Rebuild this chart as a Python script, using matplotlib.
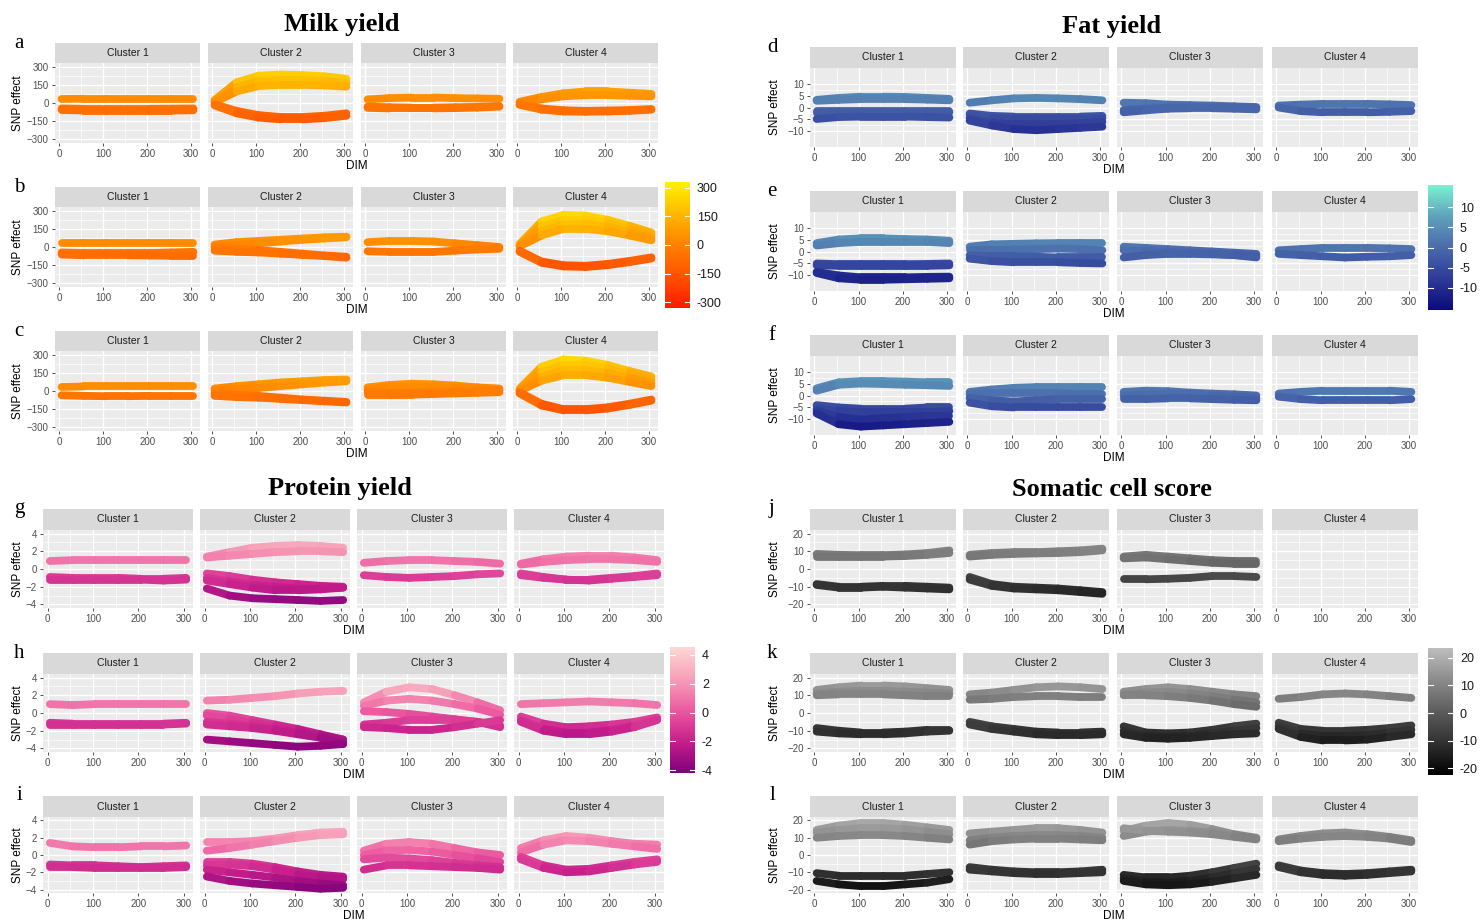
import numpy as np
import matplotlib.pyplot as plt
from matplotlib.collections import LineCollection
from matplotlib.colors import LinearSegmentedColormap, Normalize
from matplotlib.cm import ScalarMappable

W, H = 1483, 924

DIM = [5, 55, 105, 155, 205, 255, 305]
CLUSTERS = ["Cluster 1", "Cluster 2", "Cluster 3", "Cluster 4"]

# SNP effect curves, one list per cluster, values read at the DIM points above
milk_a = [
    [[33, 35, 35, 35, 35, 35, 35], [-45, -48, -48, -48, -48, -47, -45], [-58, -62, -62, -62, -62, -62, -60]],
    [[25, 170, 225, 235, 230, 220, 200], [15, 130, 180, 190, 190, 180, 165], [5, 95, 140, 150, 150, 145, 135],
     [-10, -65, -100, -115, -115, -105, -85], [-20, -85, -120, -135, -135, -125, -105]],
    [[30, 40, 45, 45, 40, 38, 35], [-30, -35, -38, -38, -35, -32, -25], [-40, -45, -45, -45, -42, -38, -30]],
    [[10, 50, 80, 95, 95, 85, 75], [0, 30, 55, 65, 65, 60, 55], [-10, -45, -60, -65, -62, -58, -50],
     [-15, -55, -70, -72, -70, -65, -55]],
]
milk_b = [
    [[35, 35, 35, 35, 35, 35, 35], [-45, -50, -50, -50, -50, -45, -40], [-62, -68, -68, -68, -70, -72, -72]],
    [[20, 40, 50, 60, 70, 80, 85], [0, 15, 30, 45, 60, 70, 80], [-5, -15, -25, -40, -55, -70, -80],
     [-30, -40, -45, -55, -65, -75, -88]],
    [[40, 50, 50, 45, 30, 15, 0], [-35, -40, -40, -40, -30, -20, -15]],
    [[25, 210, 265, 260, 225, 175, 120], [15, 170, 225, 225, 195, 150, 100], [10, 130, 185, 190, 165, 120, 75],
     [5, 95, 150, 150, 130, 95, 55], [-30, -120, -150, -155, -140, -115, -85],
     [-40, -130, -160, -165, -150, -125, -95]],
]
milk_c = [
    [[33, 38, 38, 38, 38, 38, 38], [-35, -40, -43, -43, -40, -40, -40]],
    [[20, 40, 55, 70, 80, 90, 95], [5, 15, 25, 40, 55, 70, 80], [-20, -30, -40, -55, -70, -80, -90],
     [-40, -50, -55, -65, -75, -85, -95]],
    [[30, 50, 60, 55, 45, 30, 20], [10, 30, 35, 30, 25, 15, 10], [-10, -15, -15, -10, -5, 0, 5],
     [-30, -30, -30, -25, -20, -15, -10]],
    [[20, 200, 260, 250, 215, 165, 120], [10, 160, 215, 215, 185, 140, 95], [5, 120, 170, 170, 150, 110, 65],
     [0, 85, 130, 130, 110, 75, 40], [-10, -105, -150, -150, -135, -105, -70],
     [-20, -120, -160, -160, -145, -115, -80]],
]

fat_d = [
    [[3.2, 4.0, 4.5, 4.5, 4.4, 4.0, 3.6], [2.8, 3.2, 3.5, 3.5, 3.5, 3.3, 3.0], [-1.5, -1.5, -1.5, -1.5, -1.5, -1.5, -1.5],
     [-2.2, -2.2, -2.2, -2.2, -2.2, -2.2, -2.0], [-4.8, -4.0, -3.8, -3.8, -3.8, -4.0, -4.2]],
    [[2.0, 3.0, 3.8, 4.0, 3.8, 3.5, 3.0], [-2.5, -3.5, -3.8, -3.8, -3.8, -3.8, -3.5],
     [-3.0, -4.5, -5.0, -5.0, -5.0, -5.0, -4.5], [-4.5, -6.5, -7.0, -7.0, -7.0, -6.5, -6.0],
     [-5.5, -7.5, -9.0, -9.5, -9.0, -8.5, -8.0]],
    [[2.0, 1.8, 1.2, 1.0, 0.8, 0.5, 0.2], [-1.0, -0.5, 0.0, 0.2, 0.2, 0.0, -0.3],
     [-2.0, -1.2, -0.5, -0.3, -0.3, -0.5, -0.8]],
    [[0.8, 1.2, 1.5, 1.5, 1.5, 1.3, 1.0], [0.0, -1.5, -2.0, -2.0, -2.0, -1.8, -1.5]],
]
fat_e = [
    [[3.5, 5.0, 5.5, 5.5, 5.2, 5.0, 4.5], [2.5, 3.5, 4.0, 4.0, 4.0, 4.0, 3.5], [-5.0, -5.3, -5.3, -5.3, -5.3, -5.2, -5.0],
     [-5.8, -6.0, -6.0, -6.0, -6.0, -6.0, -5.8], [-8.5, -10.0, -10.8, -10.8, -10.8, -10.6, -10.5],
     [-9.0, -11.2, -11.8, -11.8, -11.6, -11.4, -11.2]],
    [[2.0, 3.0, 3.2, 3.4, 3.5, 3.5, 3.5], [0.5, 0.5, 0.8, 1.0, 1.2, 1.0, 0.5], [-1.5, -2.0, -2.0, -2.2, -2.5, -2.5, -2.5],
     [-3.0, -4.0, -4.5, -4.5, -4.5, -4.8, -5.0]],
    [[2.0, 1.5, 1.0, 0.5, 0.0, -0.5, -1.0], [0.5, 0.2, 0.0, -0.5, -1.0, -1.5, -2.5],
     [-2.5, -1.5, -1.0, -1.0, -1.2, -1.5, -2.0]],
    [[0.5, 1.0, 1.5, 1.5, 1.5, 1.3, 1.0], [-1.0, -1.5, -2.0, -2.5, -2.2, -2.0, -1.5]],
]
fat_f = [
    [[3.0, 5.5, 6.0, 6.0, 5.8, 5.5, 5.5], [2.0, 4.5, 5.0, 4.8, 4.5, 4.3, 4.0], [-4.0, -5.0, -5.5, -5.5, -5.5, -5.0, -5.0],
     [-5.5, -6.5, -7.0, -7.0, -7.0, -7.0, -6.5], [-6.5, -9.0, -10.0, -9.5, -9.0, -8.5, -8.5],
     [-7.5, -12.0, -13.0, -12.5, -12.0, -11.5, -11.0]],
    [[1.5, 2.5, 3.2, 3.5, 3.5, 3.5, 3.5], [0.5, 1.0, 1.0, 1.0, 1.0, 0.5, 0.5], [-1.0, -2.0, -2.5, -2.0, -1.5, -1.5, -1.5],
     [-3.0, -4.5, -5.0, -5.0, -5.0, -5.0, -5.0]],
    [[1.5, 2.0, 1.8, 1.2, 0.8, 0.5, 0.0], [0.0, 0.5, 0.5, 0.5, 0.0, -0.5, -1.0],
     [-1.5, -1.5, -1.2, -1.2, -1.5, -1.8, -2.0]],
    [[0.8, 1.5, 2.0, 2.0, 2.0, 2.0, 1.5], [-0.5, -1.5, -2.0, -2.0, -2.0, -2.0, -1.5]],
]

protein_g = [
    [[0.9, 1.0, 1.0, 1.0, 1.0, 1.0, 1.0], [-0.9, -1.0, -1.0, -1.0, -1.1, -1.1, -1.0],
     [-1.2, -1.2, -1.2, -1.2, -1.2, -1.3, -1.2]],
    [[1.4, 1.9, 2.4, 2.6, 2.7, 2.6, 2.4], [1.3, 1.5, 1.7, 1.9, 2.0, 2.0, 1.9], [-0.5, -0.8, -1.2, -1.5, -1.7, -1.9, -2.0],
     [-1.0, -1.4, -1.8, -2.0, -2.2, -2.2, -2.1], [-1.3, -1.7, -2.1, -2.4, -2.4, -2.3, -2.1],
     [-2.2, -3.0, -3.3, -3.4, -3.5, -3.6, -3.5]],
    [[0.7, 0.9, 1.0, 1.0, 0.9, 0.8, 0.6], [-0.7, -0.9, -1.0, -0.9, -0.8, -0.6, -0.5]],
    [[0.6, 1.1, 1.4, 1.5, 1.5, 1.3, 1.0], [0.5, 0.8, 1.0, 1.1, 1.1, 1.0, 0.8], [-0.5, -0.9, -1.2, -1.2, -1.0, -0.8, -0.5],
     [-0.7, -1.0, -1.2, -1.3, -1.1, -0.9, -0.7]],
]
protein_h = [
    [[1.0, 0.9, 1.0, 1.0, 1.0, 1.0, 1.0], [-1.1, -1.2, -1.2, -1.2, -1.2, -1.2, -1.1],
     [-1.3, -1.3, -1.3, -1.3, -1.3, -1.3, -1.2]],
    [[1.4, 1.5, 1.7, 1.9, 2.2, 2.4, 2.5], [0.0, -0.3, -0.8, -1.3, -1.8, -2.4, -3.0], [-0.3, -0.7, -1.1, -1.5, -2.0, -2.5, -3.0],
     [-1.0, -1.2, -1.5, -1.8, -2.2, -2.7, -3.2], [-1.3, -1.5, -1.7, -2.0, -2.4, -2.8, -3.5],
     [-3.0, -3.2, -3.4, -3.6, -3.8, -3.7, -3.5]],
    [[1.2, 2.4, 2.9, 2.7, 2.0, 1.2, 0.3], [0.8, 1.4, 1.6, 1.4, 1.0, 0.5, -0.2], [0.2, 0.1, -0.1, -0.4, -0.7, -1.0, -1.4],
     [-1.3, -1.1, -0.8, -0.8, -0.8, -1.0, -1.6], [-1.6, -1.7, -1.9, -1.9, -1.6, -1.2, -0.8]],
    [[1.0, 1.1, 1.2, 1.3, 1.2, 1.1, 0.9], [-0.4, -1.2, -1.6, -1.5, -1.3, -1.0, -0.5],
     [-0.8, -1.8, -2.2, -2.2, -1.9, -1.4, -0.7], [-1.0, -2.0, -2.4, -2.4, -2.1, -1.6, -0.8]],
]
protein_i = [
    [[1.4, 1.0, 0.9, 0.9, 1.0, 1.0, 1.1], [-1.1, -1.2, -1.2, -1.3, -1.4, -1.3, -1.2],
     [-1.4, -1.4, -1.5, -1.5, -1.5, -1.5, -1.4]],
    [[1.5, 1.5, 1.6, 1.9, 2.3, 2.6, 2.7], [0.5, 0.8, 1.2, 1.6, 2.0, 2.3, 2.4], [-0.8, -0.8, -1.0, -1.4, -1.9, -2.3, -2.5],
     [-1.2, -1.1, -1.3, -1.7, -2.2, -2.6, -2.8], [-1.7, -2.0, -2.3, -2.6, -3.0, -3.3, -3.5],
     [-2.5, -3.0, -3.3, -3.5, -3.7, -3.9, -3.8]],
    [[0.5, 1.3, 1.5, 1.3, 0.8, 0.3, 0.0], [0.0, 0.5, 0.6, 0.4, 0.0, -0.4, -0.8], [-0.5, -0.3, -0.4, -0.6, -0.9, -1.2, -1.4],
     [-1.7, -1.2, -1.2, -1.3, -1.4, -1.5, -1.7]],
    [[0.8, 1.7, 2.2, 2.0, 1.6, 1.3, 1.2], [0.3, 1.2, 1.7, 1.6, 1.3, 1.0, 0.7], [-0.2, -1.2, -1.7, -1.6, -1.2, -0.8, -0.5],
     [-0.5, -1.5, -2.0, -1.9, -1.5, -1.1, -0.8]],
]

scs_j = [
    [[8.5, 8.0, 7.8, 7.8, 8.2, 9.0, 10.5], [7.0, 7.0, 7.0, 7.0, 7.3, 8.0, 9.0], [-8.5, -10, -10, -9.5, -9.5, -10, -10.5],
     [-9.0, -10.5, -10.5, -10, -10.5, -11, -11.5]],
    [[8.0, 9.0, 9.5, 9.5, 10, 10.5, 11.5], [7.0, 8.0, 8.5, 8.8, 9.0, 9.5, 10.5], [-4.5, -8.5, -10, -10.5, -11, -12, -13],
     [-6.0, -9.5, -11, -11.5, -12, -13, -14]],
    [[7.0, 8.0, 7.0, 6.0, 5.0, 4.5, 4.5], [6.0, 6.5, 5.5, 4.5, 3.5, 3.0, 3.0], [-5.8, -5.8, -5.5, -5.0, -4.0, -4.0, -4.5]],
    [],
]
scs_k = [
    [[13, 14.5, 15.5, 15.5, 15, 14, 13], [11, 12, 12.5, 12.5, 12, 11.5, 11], [10, 10.5, 10.5, 10.5, 10, 9.5, 9.5],
     [-8.5, -10, -11, -11, -10.5, -9.5, -9.5], [-10.5, -11.5, -12, -12, -11.5, -10.5, -10]],
    [[10.5, 11.5, 13, 14.5, 15, 14.5, 13.5], [7.5, 8, 9, 9.5, 9.5, 9, 9], [-5, -7.5, -9, -10.5, -11, -11, -10.5],
     [-6.5, -9, -10.5, -12, -12.5, -12.5, -12]],
    [[12, 13.5, 14.5, 13.5, 12, 10.5, 9.5], [10, 11.5, 12, 11, 9.5, 7.5, 6], [10, 10, 9.5, 8.5, 7, 5, 3.5],
     [-7.5, -11, -11.5, -11, -9.5, -7.5, -6], [-10, -13, -13.5, -13, -11.5, -10, -8.5],
     [-12, -14, -14.5, -14, -13, -12, -11.5]],
    [[8, 9, 10.5, 11, 10.5, 9.5, 8.5], [-5.5, -9, -10, -10, -9.5, -8.5, -7], [-7.5, -11.5, -13, -13, -12.5, -11, -9.5],
     [-9, -13.5, -15.5, -15.5, -15, -13.5, -12]],
]
scs_l = [
    [[14.5, 17, 18.5, 18.5, 17.5, 16, 14.5], [13, 14.5, 15.5, 15.5, 15, 13.5, 12], [10, 11, 11.5, 11.5, 11, 10, 9],
     [-10.5, -12, -12, -12, -12, -11, -10], [-15, -17, -18, -18, -17, -16, -14]],
    [[12.5, 13.5, 14.5, 15.5, 15.5, 14.5, 13], [8.5, 10, 11, 11.5, 11.5, 11, 10], [6, 8, 9, 9.5, 9.5, 9, 8.5],
     [-7, -8.5, -9.5, -10, -10, -9.5, -8.5], [-8.5, -9.5, -10.5, -11, -11, -10.5, -10]],
    [[14, 17, 18.5, 17.5, 15, 12, 10], [11, 13.5, 14.5, 14, 13, 11, 9.5], [15.5, 14, 13.5, 13, 12, 10.5, 9],
     [-11.5, -13, -13, -12, -10, -7.5, -5], [-13.5, -15.5, -16, -15, -13, -10.5, -8],
     [-15, -17, -17.5, -17, -15.5, -13.5, -11.5]],
    [[9, 11, 12.5, 13, 12, 10.5, 8.5], [8, 9.5, 10.5, 11, 10.5, 9.5, 7.5], [-6, -9, -10.5, -11, -10.5, -9.5, -8.5],
     [-7, -10, -11.5, -12, -11.5, -10.5, -9.5]],
]

milk_ticks = [-300, -150, 0, 150, 300]
fat_ticks = [-10, -5, 0, 5, 10]
protein_ticks = [-4, -2, 0, 2, 4]
scs_ticks = [-20, -10, 0, 10, 20]

plt.rcParams["font.family"] = ["Liberation Sans", "DejaVu Sans"]
SERIF = ["Liberation Serif", "DejaVu Serif"]

milk_cmap = LinearSegmentedColormap.from_list("milk", ["#FF1A00", "#FF5200", "#FF8000", "#FFB800", "#FFF200"])
fat_cmap = LinearSegmentedColormap.from_list("fat", ["#0A0A7A", "#2E3A98", "#4A6AAC", "#5EA2BA", "#7AF2D2"])
protein_cmap = LinearSegmentedColormap.from_list("prot", ["#7D007A", "#C81E8C", "#EC5AA0", "#F7A0B9", "#FDD8D4"])
scs_cmap = LinearSegmentedColormap.from_list("scs", ["#000000", "#303030", "#5C5C5C", "#8B8B8B", "#BEBEBE"])

fig = plt.figure(figsize=(W / 100, H / 100), dpi=100)
fig.patch.set_facecolor("white")


def ax_at(x0, y0, x1, y1):
    return fig.add_axes([x0 / W, 1 - y1 / H, (x1 - x0) / W, (y1 - y0) / H])


def draw_row(lefts, width, strip_top, panel_top, panel_bottom, data, cmap, norm, ylim, yticks, letter, letter_x, ylab_x):
    for i, left in enumerate(lefts):
        strip = ax_at(left, strip_top, left + width, panel_top)
        strip.set_facecolor("#D9D9D9")
        strip.set_xticks([]); strip.set_yticks([])
        for s in strip.spines.values():
            s.set_visible(False)
        strip.text(0.5, 0.5, CLUSTERS[i], ha="center", va="center", fontsize=7.5, color="#1A1A1A")

        ax = ax_at(left, panel_top, left + width, panel_bottom)
        ax.set_facecolor("#EBEBEB")
        for y in data[i]:
            pts = np.column_stack([DIM, y])
            segs = np.stack([pts[:-1], pts[1:]], axis=1)
            lc = LineCollection(segs, cmap=cmap, norm=norm, linewidths=5.6, capstyle="round", joinstyle="round")
            lc.set_array((np.array(y[:-1]) + np.array(y[1:])) / 2)
            ax.add_collection(lc)
        ax.set_xlim(-10, 320)
        ax.set_ylim(*ylim)
        ax.set_xticks([0, 100, 200, 300])
        ax.set_xticks([50, 150, 250], minor=True)
        ax.set_yticks(yticks)
        ax.set_yticks([(a + b) / 2 for a, b in zip(yticks[:-1], yticks[1:])], minor=True)
        ax.grid(which="major", color="white", lw=1.0)
        ax.grid(which="minor", color="white", lw=0.5)
        ax.set_axisbelow(True)
        for s in ax.spines.values():
            s.set_visible(False)
        ax.tick_params(which="major", length=2.5, width=0.6, color="#333333", labelsize=7,
                       labelcolor="#4D4D4D", pad=2)
        ax.tick_params(which="minor", length=0)
        if i > 0:
            ax.tick_params(axis="y", left=False, labelleft=False)

    mid_y = (panel_top + panel_bottom) / 2
    fig.text(ylab_x / W, 1 - mid_y / H, "SNP effect", rotation=90, ha="center", va="center", fontsize=8.5)
    fig.text((lefts[0] + lefts[-1] + width) / 2 / W, 1 - (panel_bottom + 23) / H, "DIM",
             ha="center", va="center", fontsize=8.5)
    fig.text(letter_x / W, 1 - strip_top / H, letter, ha="center", va="center", fontsize=15, family=SERIF)


def draw_colorbar(x0, y0, x1, y1, cmap, norm, ticks):
    cax = ax_at(x0, y0, x1, y1)
    cb = fig.colorbar(ScalarMappable(norm=norm, cmap=cmap), cax=cax)
    cb.outline.set_visible(False)
    cb.set_ticks(ticks)
    cb.set_ticklabels([str(t) for t in ticks])
    cax.tick_params(length=0, labelsize=9, pad=5, labelcolor="#1A1A1A")
    for t in ticks:
        cax.plot([0, 0.2], [t, t], color="white", lw=0.8)
        cax.plot([0.8, 1], [t, t], color="white", lw=0.8)
    cax.set_xlim(0, 1)


def title(x, y, text):
    fig.text(x / W, 1 - y / H, text, ha="center", va="center", fontsize=19, fontweight="bold", family=SERIF)


# Milk yield
milk_norm = Normalize(-330, 330)
milk_lefts = [55, 208, 361, 513]
title(342, 25, "Milk yield")
for data, rows, letter in [(milk_a, (43, 63, 143), "a"), (milk_b, (187, 207, 287), "b"), (milk_c, (331, 351, 431), "c")]:
    draw_row(milk_lefts, 145, *rows, data, milk_cmap, milk_norm, (-330, 330), milk_ticks, letter, 19, 18)
draw_colorbar(665, 182, 690, 308, milk_cmap, milk_norm, milk_ticks)

# Fat yield
fat_norm = Normalize(-15.6, 15.6)
fat_lefts = [810, 963, 1117, 1272]
title(1112, 27, "Fat yield")
for data, rows, letter in [(fat_d, (47, 68, 147), "d"), (fat_e, (191, 212, 291), "e"), (fat_f, (335, 356, 435), "f")]:
    draw_row(fat_lefts, 146, *rows, data, fat_cmap, fat_norm, (-16.5, 16.5), fat_ticks, letter, 772, 775)
draw_colorbar(1428, 185, 1453, 310, fat_cmap, fat_norm, fat_ticks)

# Protein yield
protein_norm = Normalize(-4.2, 4.55)
protein_lefts = [43, 200, 357, 514]
title(340, 488, "Protein yield")
for data, rows, letter in [(protein_g, (509, 530, 608), "g"), (protein_h, (653, 674, 752), "h"),
                           (protein_i, (796, 817, 893), "i")]:
    draw_row(protein_lefts, 150, *rows, data, protein_cmap, protein_norm, (-4.4, 4.4), protein_ticks, letter, 19, 18)
draw_colorbar(670, 647, 695, 773, protein_cmap, protein_norm, protein_ticks)

# Somatic cell score
scs_norm = Normalize(-22.5, 23.6)
title(1112, 489, "Somatic cell score")
for data, rows, letter in [(scs_j, (509, 530, 608), "j"), (scs_k, (653, 674, 752), "k"), (scs_l, (796, 817, 893), "l")]:
    draw_row(fat_lefts, 146, *rows, data, scs_cmap, scs_norm, (-22, 22), scs_ticks, letter, 772, 775)
draw_colorbar(1428, 648, 1453, 775, scs_cmap, scs_norm, scs_ticks)

fig.savefig("out.png", dpi=100)
